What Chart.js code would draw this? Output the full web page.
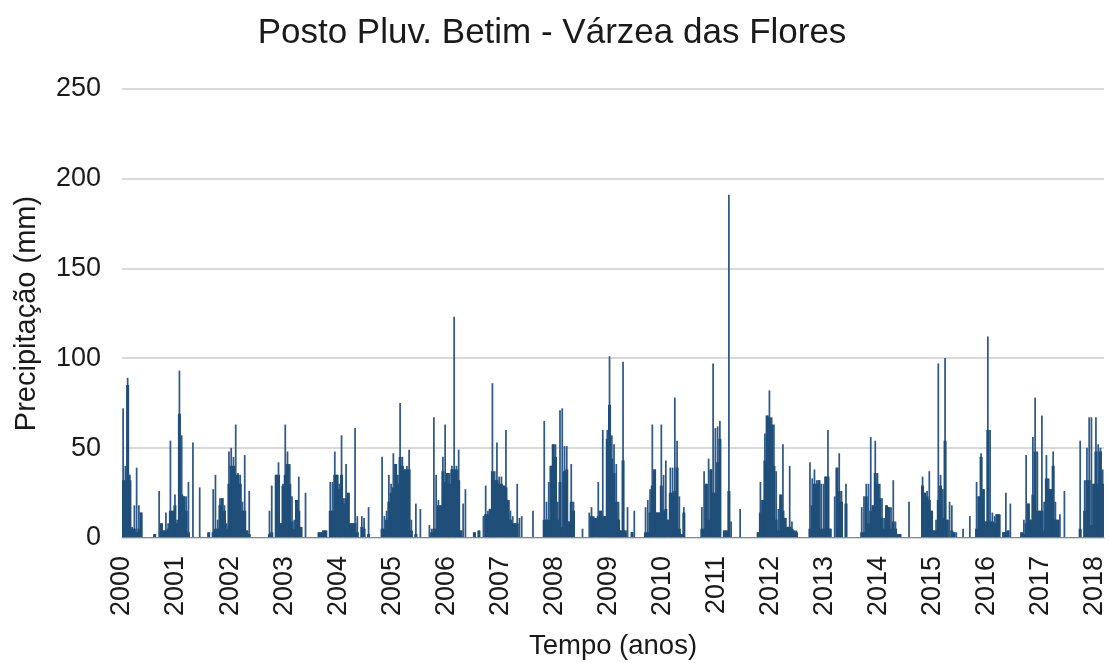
<!DOCTYPE html>
<html>
<head>
<meta charset="utf-8">
<script src="https://cdn.jsdelivr.net/npm/chart.js@4.4.1/dist/chart.umd.min.js"></script>
<style>
html,body{margin:0;padding:0;background:#fff;}
canvas{display:block;}
</style>
</head>
<body>
<canvas id="c" width="1109" height="663"></canvas>
<script>
// ---- Data (24 half-month slots per year: peak value and typical/filled level) ----
const yearTicks = [2000,2001,2002,2003,2004,2005,2006,2007,2008,2009,2010,2011,2012,2013,2014,2015,2016,2017,2018];
const yTicks = [0,50,100,150,200,250];

const p2000 = [72,40,89,35,6,18,39,18,14,0,0,0,0,0,2,0,26,8,4,14,8,54,15,24];
const f2000 = [32,32,85,32,5,5,3,5,14,0,0,0,0,0,2,0,0,8,4,4,5,15,15,18];
const p2001 = [10,93,57,23,23,31,0,53,0,0,28,0,0,0,3,0,27,35,10,22,22,18,8,48];
const f2001 = [8,69,24,23,15,3,0,0,0,0,0,0,0,0,3,0,3,5,5,18,22,15,5,30];
const p2002 = [50,45,63,36,35,20,46,4,26,0,0,0,0,0,0,0,0,15,29,0,35,42,8,30];
const f2002 = [40,40,35,35,30,15,15,4,2,0,0,0,0,0,0,0,0,2,3,0,35,35,8,29];
const p2003 = [63,48,41,23,10,21,34,6,0,25,0,0,0,0,0,3,3,4,4,0,31,31,48,35];
const f2003 = [35,41,30,9,5,21,15,6,0,0,0,0,0,0,0,3,3,4,4,0,15,15,35,35];
const p2004 = [30,57,22,41,25,8,8,61,12,0,12,11,0,17,0,0,0,0,0,45,12,15,35,30];
const f2004 = [27,35,19,22,25,8,8,8,3,0,6,5,0,2,0,0,0,0,0,5,5,10,20,25];
const p2005 = [47,41,35,75,45,38,40,49,10,0,19,0,16,0,0,0,7,5,67,35,21,18,45,63];
const f2005 = [28,41,30,45,40,38,38,38,4,0,2,0,0,0,0,0,0,3,5,5,18,18,37,31];
const p2006 = [36,36,40,123,40,49,4,19,27,0,0,0,3,0,4,0,12,29,15,16,86,37,53,34];
const f2006 = [36,30,38,38,38,32,4,0,0,0,0,0,3,0,4,0,0,13,13,16,37,32,32,30];
const p2007 = [34,29,60,21,15,12,8,30,11,12,0,0,0,0,15,0,0,0,0,65,20,31,40,52];
const f2007 = [30,29,28,21,10,8,8,8,0,0,0,0,0,0,0,0,0,0,0,10,10,10,40,52];
const p2008 = [52,20,71,72,51,51,9,41,20,0,0,0,5,0,0,14,17,12,11,31,15,60,12,60];
const f2008 = [45,10,31,6,37,38,9,20,15,0,0,0,0,0,0,0,12,11,11,12,15,12,12,55];
const p2009 = [101,57,52,41,20,4,98,4,17,0,3,15,0,0,0,0,17,21,27,63,38,14,14,63];
const f2009 = [74,44,36,20,10,4,43,4,0,0,3,0,0,0,0,0,3,3,14,29,38,14,14,29];
const p2010 = [35,43,10,39,39,78,54,23,2,17,0,0,0,0,0,0,0,17,37,30,44,38,97,61];
const f2010 = [15,16,10,25,25,26,39,5,2,14,0,0,0,0,0,0,0,5,5,30,10,38,25,25];
const p2011 = [62,65,0,4,4,191,9,0,0,0,16,0,0,0,0,0,0,0,3,31,21,58,68,82];
const f2011 = [42,55,0,4,4,26,0,0,0,0,0,0,0,0,0,0,0,0,3,14,21,43,68,67];
const p2012 = [67,63,37,16,24,52,11,6,40,9,4,4,0,0,0,0,0,42,33,38,32,32,30,30];
const f2012 = [63,40,10,4,24,15,11,6,6,5,4,3,0,0,0,0,0,5,18,30,30,32,5,5];
const p2013 = [34,60,5,0,23,39,47,26,0,30,0,0,0,0,0,0,17,23,30,30,56,18,54,36];
const f2013 = [34,34,5,0,0,39,26,20,0,19,0,0,0,0,0,0,3,3,23,8,15,18,36,30];
const p2014 = [30,22,11,18,17,17,32,9,2,2,0,0,0,20,0,0,0,0,0,34,25,26,37,15];
const f2014 = [22,11,5,18,17,5,9,5,2,2,0,0,0,0,0,0,0,0,0,29,25,23,21,15];
const p2015 = [4,10,97,35,27,100,10,20,18,3,3,0,0,5,0,0,12,0,0,31,23,47,27,9];
const f2015 = [4,4,21,29,11,54,10,0,4,3,0,0,0,0,0,0,0,0,0,5,23,45,27,9];
const p2016 = [112,60,14,12,13,13,0,3,25,4,19,0,0,0,0,3,10,46,19,10,56,78,48,15];
const f2016 = [60,9,9,8,13,13,0,3,3,4,0,0,0,0,0,3,2,8,19,10,24,48,15,15];
const p2017 = [68,20,46,33,27,48,20,10,13,0,26,0,0,0,0,0,0,54,0,32,50,67,67,30];
const f2017 = [15,4,33,27,27,40,10,10,0,0,0,0,0,0,0,0,0,5,0,15,32,32,7,30];
const p2018 = [67,52,50,38];
const f2018 = [48,30,48,30];

const peakSeries = [p2000,p2001,p2002,p2003,p2004,p2005,p2006,p2007,p2008,p2009,p2010,p2011,p2012,p2013,p2014,p2015,p2016,p2017,p2018];
const fillSeries = [f2000,f2001,f2002,f2003,f2004,f2005,f2006,f2007,f2008,f2009,f2010,f2011,f2012,f2013,f2014,f2015,f2016,f2017,f2018];

const SLOTS = 24;
function toPoints(series){
  const pts = [];
  series.forEach((arr, i) => arr.forEach((v, k) => pts.push({x: yearTicks[i] + (k + 0.5) / SLOTS, y: v})));
  return pts;
}

const FONT = "'Liberation Sans', Arial, sans-serif";
const TXT = '#1a1a1a';

new Chart(document.getElementById('c'), {
  type: 'bar',
  data: {
    datasets: [
      { label: 'fill', data: toPoints(fillSeries), backgroundColor: '#1f4e79', barThickness: 2.4, grouped: false, order: 0 },
      { label: 'peak', data: toPoints(peakSeries), backgroundColor: '#2f5a88', barThickness: 1.1, grouped: false, order: 1 }
    ]
  },
  options: {
    responsive: false,
    animation: false,
    devicePixelRatio: 1,
    layout: { padding: { left: 0, right: 5, top: 0, bottom: 0 } },
    plugins: {
      legend: { display: false },
      tooltip: { enabled: false },
      title: {
        display: true,
        text: 'Posto Pluv. Betim - Várzea das Flores',
        color: TXT,
        font: { family: FONT, size: 35, weight: 'normal' },
        padding: { top: 12, bottom: 35 }
      }
    },
    scales: {
      x: {
        type: 'linear',
        min: 2000,
        max: 2018.17,
        offset: false,
        afterBuildTicks: s => { s.ticks = yearTicks.map(v => ({ value: v })); },
        afterFit: s => { s.height = 125; s.paddingLeft = 0; s.paddingRight = 0; },
        grid: { display: false, drawTicks: false },
        border: { display: true, color: '#d9d9d9', width: 2 },
        ticks: {
          autoSkip: false,
          minRotation: 90,
          maxRotation: 90,
          padding: 18,
          color: TXT,
          font: { family: FONT, size: 27 },
          callback: v => String(v)
        },
        title: {
          display: true,
          text: 'Tempo (anos)',
          color: TXT,
          font: { family: FONT, size: 27.5 },
          padding: { top: 0, bottom: 0 }
        }
      },
      y: {
        min: 0,
        max: 250,
        afterBuildTicks: s => { s.ticks = yTicks.map(v => ({ value: v })); },
        afterFit: s => { s.width = 122; s.paddingTop = 0; s.paddingBottom = 0; },
        grid: { color: '#d9d9d9', lineWidth: 2, drawTicks: false },
        border: { display: false },
        ticks: {
          padding: 21,
          color: TXT,
          font: { family: FONT, size: 27 }
        },
        title: {
          display: true,
          text: 'Precipitação (mm)',
          color: TXT,
          font: { family: FONT, size: 29 },
          padding: { top: 10, bottom: 0 }
        }
      }
    }
  }
});
</script>
</body>
</html>
